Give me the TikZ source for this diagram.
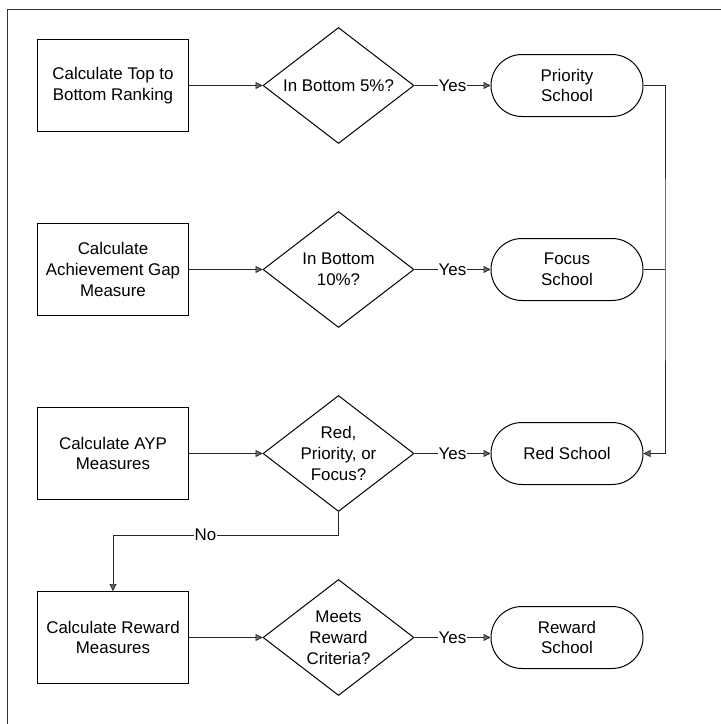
\documentclass[tikz,border=0pt]{standalone}
\usepackage{fontspec}
\setmainfont{Liberation Sans}
\usetikzlibrary{shapes.geometric,shapes.misc,arrows.meta}
\begin{document}
\begin{tikzpicture}[x=1pt,y=-1pt,
  every node/.style={font=\fontsize{16.9}{20.8}\selectfont},
  procbox/.style={draw, line width=1pt, minimum width=151pt, minimum height=92pt, align=center, inner sep=0pt},
  decbox/.style={draw, diamond, aspect=1.3, line width=1pt, minimum width=151pt, minimum height=116pt, align=center, inner sep=0pt},
  endbox/.style={draw, rounded rectangle, line width=1pt, minimum width=152pt, minimum height=62pt, align=center, inner sep=0pt},
  conn/.style={draw=black!85, line width=0.7pt, -{Triangle[length=7pt,width=7pt,fill=black!60]}},
  plain/.style={draw=black!85, line width=0.7pt},
  lbl/.style={fill=white, inner sep=1pt}
]
\useasboundingbox (0,0) rectangle (721,724);
\draw[line width=0.9pt, black!80] (7,724) -- (7,9) -- (721,9);

% row 1
\node[procbox] (p1) at (113,85.5) {Calculate Top to\\Bottom Ranking};
\node[decbox]  (d1) at (338.5,85.5) {In Bottom 5\%?};
\node[endbox]  (e1) at (567,85.5) {Priority\\School};
% row 2
\node[procbox] (p2) at (113,269.5) {Calculate\\Achievement Gap\\Measure};
\node[decbox]  (d2) at (338.5,269.5) {In Bottom\\10\%?};
\node[endbox]  (e2) at (567,269.5) {Focus\\School};
% row 3
\node[procbox] (p3) at (113,453.5) {Calculate AYP\\Measures};
\node[decbox]  (d3) at (338.5,453.5) {Red,\\Priority, or\\Focus?};
\node[endbox]  (e3) at (567,453.5) {Red School};
% row 4
\node[procbox] (p4) at (113,637.5) {Calculate Reward\\Measures};
\node[decbox]  (d4) at (338.5,637.5) {Meets\\Reward\\Criteria?};
\node[endbox]  (e4) at (567,637.5) {Reward\\School};

% connectors
\draw[conn] (p1) -- (d1);
\draw[conn] (p2) -- (d2);
\draw[conn] (p3) -- (d3);
\draw[conn] (p4) -- (d4);
\draw[conn] (d1) -- node[lbl]{Yes} (e1);
\draw[conn] (d2) -- node[lbl]{Yes} (e2);
\draw[conn] (d3) -- node[lbl]{Yes} (e3);
\draw[conn] (d4) -- node[lbl]{Yes} (e4);

\coordinate (rx) at (665,269.5);
\draw[conn] (e1.east) -| (rx) |- (e3.east);
\draw[plain] (e2.east) -- (rx);

\draw[conn] (d3.south) -- ++(0,23) -| node[lbl,pos=0.295]{No} (p4.north);
\end{tikzpicture}
\end{document}
